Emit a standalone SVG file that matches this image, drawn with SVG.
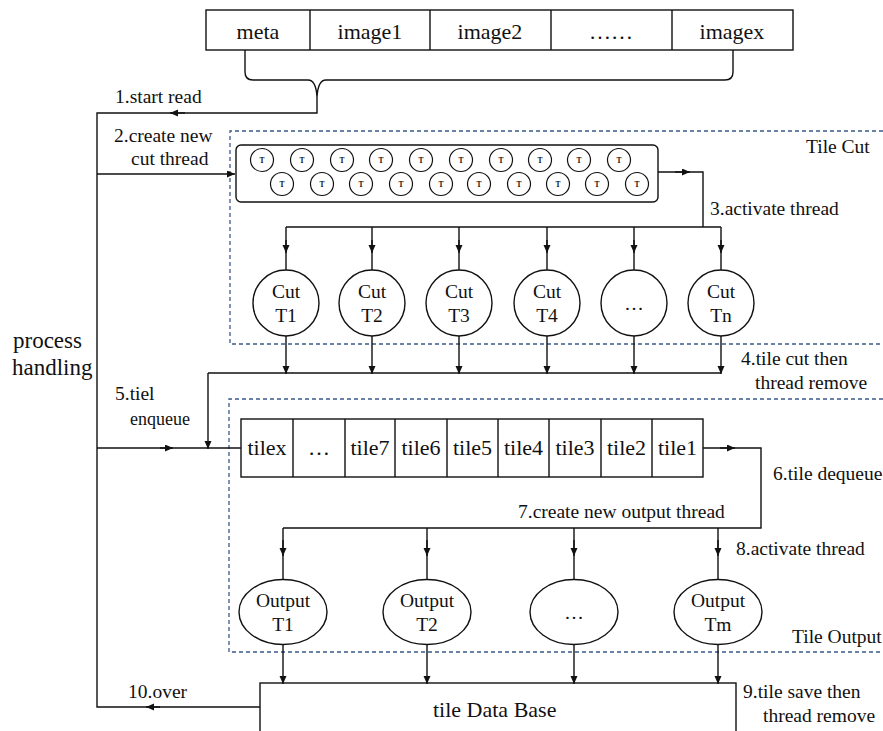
<svg xmlns="http://www.w3.org/2000/svg" width="883" height="731" viewBox="0 0 883 731">
<defs>
<marker id="a" markerUnits="userSpaceOnUse" markerWidth="9" markerHeight="8" refX="8" refY="3.5" orient="auto"><path d="M0,0 L8,3.5 L0,7 z" fill="#111"/></marker>
<style>
text{font-family:"Liberation Serif","Times New Roman",serif;fill:#111;font-size:19.5px}
.c{text-anchor:middle}
.big{font-size:22px}
.ph{font-size:23px}
.t{font-size:7.5px;font-weight:bold;text-anchor:middle}
.ln{fill:none;stroke:#111;stroke-width:1.4}
.ar{fill:none;stroke:#111;stroke-width:1.4;marker-end:url(#a)}
.nd{fill:#fff;stroke:#111;stroke-width:1.4}
.sm{fill:#fff;stroke:#111;stroke-width:1.2}
.dash{fill:none;stroke:#3b5a8c;stroke-width:1.3;stroke-dasharray:4,3}
</style>
</defs>
<rect width="883" height="731" fill="#fff"/>

<g id="regions">
<path class="dash" d="M883,131 H230 V344 H883"/>
<path class="dash" d="M883,399 H229 V652 H883"/>
<text x="806" y="153">Tile Cut</text>
<text x="792" y="643">Tile Output</text>
</g>

<g id="image-bar">
<rect class="nd" x="206" y="10" width="587" height="40"/>
<path class="ln" d="M310,10 V50 M430,10 V50 M551,10 V50 M672,10 V50"/>
<text class="c big" x="258" y="39">meta</text>
<text class="c big" x="370" y="39">image1</text>
<text class="c big" x="490" y="39">image2</text>
<text class="c big" x="611" y="39">……</text>
<text class="c big" x="732" y="39">imagex</text>
</g>

<g id="thread-pool">
<rect class="nd" x="236" y="145" width="422" height="57" rx="5"/>
<g class="sm">
<circle cx="262" cy="160" r="11.5"/><circle cx="302" cy="160" r="11.5"/><circle cx="342" cy="160" r="11.5"/><circle cx="381" cy="160" r="11.5"/><circle cx="421" cy="160" r="11.5"/><circle cx="461" cy="160" r="11.5"/><circle cx="501" cy="160" r="11.5"/><circle cx="540" cy="160" r="11.5"/><circle cx="579" cy="160" r="11.5"/><circle cx="619" cy="160" r="11.5"/>
<circle cx="282" cy="184" r="11.5"/><circle cx="322" cy="184" r="11.5"/><circle cx="361" cy="184" r="11.5"/><circle cx="401" cy="184" r="11.5"/><circle cx="441" cy="184" r="11.5"/><circle cx="479" cy="184" r="11.5"/><circle cx="519" cy="184" r="11.5"/><circle cx="558" cy="184" r="11.5"/><circle cx="597" cy="184" r="11.5"/><circle cx="637" cy="184" r="11.5"/>
</g>
<text class="t" x="262" y="163">T</text><text class="t" x="302" y="163">T</text><text class="t" x="342" y="163">T</text><text class="t" x="381" y="163">T</text><text class="t" x="421" y="163">T</text><text class="t" x="461" y="163">T</text><text class="t" x="501" y="163">T</text><text class="t" x="540" y="163">T</text><text class="t" x="579" y="163">T</text><text class="t" x="619" y="163">T</text>
<text class="t" x="282" y="187">T</text><text class="t" x="322" y="187">T</text><text class="t" x="361" y="187">T</text><text class="t" x="401" y="187">T</text><text class="t" x="441" y="187">T</text><text class="t" x="479" y="187">T</text><text class="t" x="519" y="187">T</text><text class="t" x="558" y="187">T</text><text class="t" x="597" y="187">T</text><text class="t" x="637" y="187">T</text>
</g>

<g id="cut-t1"><circle class="nd" cx="286" cy="303" r="33"/><text class="c" x="286" y="298">Cut</text><text class="c" x="286" y="322">T1</text></g>
<g id="cut-t2"><circle class="nd" cx="372" cy="303" r="33"/><text class="c" x="372" y="298">Cut</text><text class="c" x="372" y="322">T2</text></g>
<g id="cut-t3"><circle class="nd" cx="459" cy="303" r="33"/><text class="c" x="459" y="298">Cut</text><text class="c" x="459" y="322">T3</text></g>
<g id="cut-t4"><circle class="nd" cx="547" cy="303" r="33"/><text class="c" x="547" y="298">Cut</text><text class="c" x="547" y="322">T4</text></g>
<g id="cut-dots"><circle class="nd" cx="634" cy="303" r="33"/><text class="c" x="634" y="310">…</text></g>
<g id="cut-tn"><circle class="nd" cx="721" cy="303" r="33"/><text class="c" x="721" y="298">Cut</text><text class="c" x="721" y="322">Tn</text></g>

<g id="tile-queue">
<rect class="nd" x="241" y="419" width="462" height="58"/>
<path class="ln" d="M293,419 V477 M345,419 V477 M395,419 V477 M447,419 V477 M498,419 V477 M549,419 V477 M601,419 V477 M652,419 V477"/>
<text class="c big" x="267" y="455">tilex</text>
<text class="c big" x="319" y="455">…</text>
<text class="c big" x="370" y="455">tile7</text>
<text class="c big" x="421" y="455">tile6</text>
<text class="c big" x="472.5" y="455">tile5</text>
<text class="c big" x="523.5" y="455">tile4</text>
<text class="c big" x="575" y="455">tile3</text>
<text class="c big" x="626.5" y="455">tile2</text>
<text class="c big" x="677.5" y="455">tile1</text>
</g>

<g id="out-t1"><ellipse class="nd" cx="283" cy="612" rx="44" ry="32.5"/><text class="c" x="283" y="607">Output</text><text class="c" x="283" y="631">T1</text></g>
<g id="out-t2"><ellipse class="nd" cx="427" cy="612" rx="44" ry="32.5"/><text class="c" x="427" y="607">Output</text><text class="c" x="427" y="631">T2</text></g>
<g id="out-dots"><ellipse class="nd" cx="574" cy="612" rx="44" ry="32.5"/><text class="c" x="574" y="619">…</text></g>
<g id="out-tm"><ellipse class="nd" cx="718" cy="612" rx="44" ry="32.5"/><text class="c" x="718" y="607">Output</text><text class="c" x="718" y="631">Tm</text></g>

<g id="tile-db">
<rect class="nd" x="260" y="683" width="476" height="60"/>
<text class="big" x="433" y="717">tile  Data Base</text>
</g>

<g id="connectors">
<path class="ln" d="M245,50 V72 Q245,80 253,80 H308 Q316,80 317,97 Q318,80 326,80 H725 Q733,80 733,72 V50"/>
<path class="ln" d="M317,97 V113 H97 V707 H260"/>
<path class="ar" d="M185,113 H170"/>
<path class="ar" d="M160,707 H146"/>
<path class="ar" d="M97,174 H235"/>
<path class="ln" d="M658,172 H703 V227"/>
<path class="ar" d="M675,172 H690"/>
<path class="ln" d="M286,227 H721"/>
<path class="ln" d="M286,227 V270 M372,227 V270 M459,227 V270 M547,227 V270 M634,227 V270 M721,227 V270"/>
<path class="ar" d="M286,240 V253"/><path class="ar" d="M372,240 V253"/><path class="ar" d="M459,240 V253"/><path class="ar" d="M547,240 V253"/><path class="ar" d="M634,240 V253"/><path class="ar" d="M721,240 V253"/>
<path class="ar" d="M286,336 V374"/><path class="ar" d="M372,336 V374"/><path class="ar" d="M459,336 V374"/><path class="ar" d="M547,336 V374"/><path class="ar" d="M634,336 V374"/><path class="ar" d="M721,336 V374"/>
<path class="ln" d="M208,373 H721"/>
<path class="ar" d="M208,373 V449"/>
<path class="ln" d="M97,448 H241"/>
<path class="ar" d="M160,448 H173"/>
<path class="ln" d="M703,448 H761 V528 H283"/>
<path class="ar" d="M720,448 H735"/>
<path class="ln" d="M283,528 V580 M427,528 V580 M574,528 V580 M718,528 V580"/>
<path class="ar" d="M283,540 V556"/><path class="ar" d="M427,540 V556"/><path class="ar" d="M574,540 V556"/><path class="ar" d="M718,540 V556"/>
<path class="ar" d="M283,645 V684"/><path class="ar" d="M427,645 V684"/><path class="ar" d="M574,645 V684"/><path class="ar" d="M718,645 V684"/>
</g>

<g id="labels">
<text x="115" y="103">1.start read</text>
<text x="114" y="142">2.create new</text>
<text x="131" y="165">cut thread</text>
<text x="710" y="215">3.activate thread</text>
<text x="741" y="365">4.tile cut  then</text>
<text x="755" y="389">thread remove</text>
<text class="ph" x="13" y="348">process</text>
<text class="ph" x="12" y="375">handling</text>
<text x="115" y="400">5.tiel</text>
<text x="130" y="425" style="font-size:18px">enqueue</text>
<text x="773" y="480">6.tile dequeue</text>
<text x="518" y="518">7.create new output  thread</text>
<text x="736" y="555">8.activate thread</text>
<text x="743" y="698">9.tile save then</text>
<text x="763" y="722">thread remove</text>
<text x="128" y="698">10.over</text>
</g>
</svg>
